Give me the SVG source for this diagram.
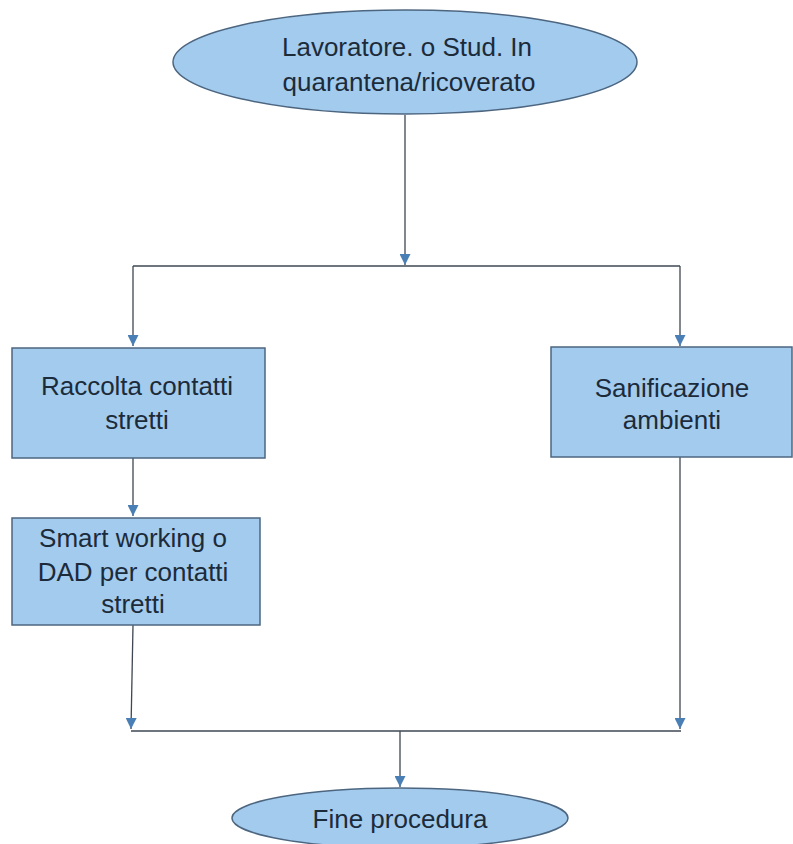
<svg xmlns="http://www.w3.org/2000/svg" width="793" height="844" viewBox="0 0 793 844">
<style>
.n{fill:#a3cbee;stroke:#4d6680;stroke-width:1.5}
.t{font-family:"Liberation Sans",Arial,sans-serif;font-size:26px;fill:#1c2b3a;text-anchor:middle}
.c{fill:none;stroke:#3f4750;stroke-width:1.3}
</style>
<defs>
<marker id="a" viewBox="0 0 10 10" refX="10" refY="5" markerWidth="12" markerHeight="11" markerUnits="userSpaceOnUse" orient="auto">
<path d="M0,0 L10,5 L0,10 Z" fill="#4a7fb5"/>
</marker>
</defs>
<rect width="793" height="844" fill="#fff"/>
<g id="connectors">
<line class="c" x1="405" y1="115" x2="405" y2="265" marker-end="url(#a)"/>
<line class="c" x1="133" y1="266" x2="680" y2="266"/>
<line class="c" x1="133" y1="266" x2="133" y2="346" marker-end="url(#a)"/>
<line class="c" x1="680" y1="266" x2="680" y2="346" marker-end="url(#a)"/>
<line class="c" x1="133" y1="458" x2="133" y2="516" marker-end="url(#a)"/>
<line class="c" x1="133" y1="625" x2="131" y2="729" marker-end="url(#a)"/>
<line class="c" x1="680" y1="457" x2="680" y2="729" marker-end="url(#a)"/>
<line class="c" x1="131" y1="731" x2="681" y2="731"/>
<line class="c" x1="400" y1="731" x2="400" y2="787" marker-end="url(#a)"/>
</g>
<g id="start">
<ellipse class="n" cx="405" cy="62" rx="232" ry="52"/>
<text class="t" x="407" y="56">Lavoratore. o Stud. In</text>
<text class="t" x="409" y="91">quarantena/ricoverato</text>
</g>
<g id="raccolta">
<rect class="n" x="12" y="348" width="253" height="110"/>
<text class="t" x="137" y="395">Raccolta contatti</text>
<text class="t" x="137" y="429">stretti</text>
</g>
<g id="smart">
<rect class="n" x="12" y="518" width="248" height="107"/>
<text class="t" x="133" y="547">Smart working o</text>
<text class="t" x="133" y="581">DAD per contatti</text>
<text class="t" x="133" y="613">stretti</text>
</g>
<g id="sanificazione">
<rect class="n" x="551" y="347" width="241" height="110"/>
<text class="t" x="672" y="397">Sanificazione</text>
<text class="t" x="672" y="429">ambienti</text>
</g>
<g id="fine">
<ellipse class="n" cx="400" cy="818" rx="168" ry="30"/>
<text class="t" x="400" y="828">Fine procedura</text>
</g>
</svg>
